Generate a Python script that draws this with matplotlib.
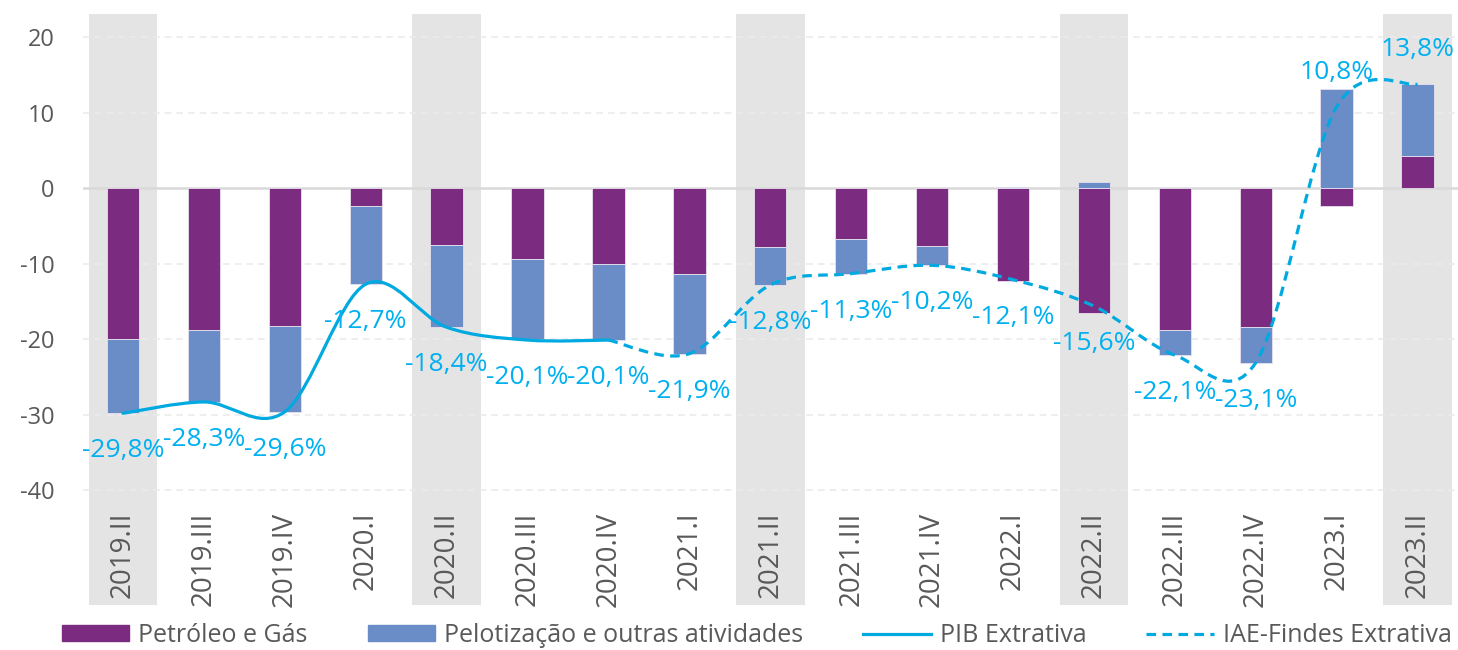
import numpy as np
import matplotlib.pyplot as plt
from matplotlib.path import Path
from matplotlib.patches import PathPatch, Patch
from matplotlib.lines import Line2D

plt.rcParams['font.family'] = ['Open Sans', 'DejaVu Sans']

# 1. DATA
quarters = ["2019.II", "2019.III", "2019.IV", "2020.I", "2020.II", "2020.III",
            "2020.IV", "2021.I", "2021.II", "2021.III", "2021.IV", "2022.I",
            "2022.II", "2022.III", "2022.IV", "2023.I", "2023.II"]
petroleo = [-20.0, -18.7, -18.2, -2.4, -7.5, -9.4, -10.0, -11.4, -7.8, -6.7,
            -7.6, -12.3, -16.5, -18.8, -18.4, -2.4, 4.3]
pelotizacao = [-9.8, -9.6, -11.4, -10.3, -10.9, -10.6, -10.1, -10.5, -5.0,
               -4.6, -2.6, 0.2, 0.9, -3.3, -4.7, 13.2, 9.5]
pib = [-29.8, -28.3, -29.6, -12.7, -18.4, -20.1, -20.1]
iae = [-20.1, -21.9, -12.8, -11.3, -10.2, -12.1, -15.6, -22.1, -23.1, 10.8, 13.8]
pib_labels = ["-29,8%", "-28,3%", "-29,6%", "-12,7%", "-18,4%", "-20,1%", "-20,1%"]
iae_labels = ["-21,9%", "-12,8%", "-11,3%", "-10,2%", "-12,1%", "-15,6%",
              "-22,1%", "-23,1%", "10,8%", "13,8%"]
shaded = ["2019.II", "2020.II", "2021.II", "2022.II", "2023.II"]

PURPLE = "#7B2C80"
BLUE = "#6A8DC8"
CYAN = "#00A9E0"
LABEL = "#00B0F0"
GREY_TXT = "#595959"


def smooth_path(xs, ys):
    # Catmull-Rom style bezier through the points (like Excel smoothed lines)
    pts = np.column_stack([xs, ys]).astype(float)
    n = len(pts)
    verts = [pts[0]]
    codes = [Path.MOVETO]
    for i in range(n - 1):
        p0 = pts[i - 1] if i > 0 else pts[i]
        p1 = pts[i]
        p2 = pts[i + 1]
        p3 = pts[i + 2] if i + 2 < n else pts[i + 1]
        c1 = p1 + (p2 - p0) / 6
        c2 = p2 - (p3 - p1) / 6
        verts += [c1, c2, p2]
        codes += [Path.CURVE4] * 3
    return Path(verts, codes)


# 2. FIGURE
fig = plt.figure(figsize=(14.58, 6.5), dpi=100)
ax = fig.add_axes([0.0566, 0.0692, 0.9434, 0.9093])
x = np.arange(len(quarters))

for q in shaded:
    i = quarters.index(q)
    ax.axvspan(i - 0.425, i + 0.425, color="#E4E4E4", lw=0, zorder=0)

for yv in [20, 10, -10, -20, -30, -40]:
    ax.axhline(yv, color="#EBEBEB", lw=1.2, ls=(0, (4, 3)), zorder=1)
ax.axhline(0, color="#D9D9D9", lw=1.8, zorder=1.5)

# stacked bars, positives and negatives stacked separately
petro = np.array(petroleo)
pelo = np.array(pelotizacao)
pelo_bottom = np.where(np.sign(pelo) == np.sign(petro), petro, 0)
ax.bar(x, petro, width=0.4, color=PURPLE, edgecolor="#E8E0EC", lw=0.6, zorder=2)
ax.bar(x, pelo, width=0.4, bottom=pelo_bottom, color=BLUE, edgecolor="#E8E0EC",
       lw=0.6, zorder=2)

# lines
x_pib = x[:len(pib)]
x_iae = x[len(pib) - 1:]
ax.add_patch(PathPatch(smooth_path(x_pib, pib), fill=False, edgecolor=CYAN,
                       lw=2.3, capstyle="round", zorder=3))
ax.add_patch(PathPatch(smooth_path(x_iae, iae), fill=False, edgecolor=CYAN,
                       lw=2.3, ls=(0, (3, 2)), zorder=3))

# data labels
all_x = list(x_pib) + list(x_iae[1:])
all_y = pib + iae[1:]
all_lbl = pib_labels + iae_labels
for xi, yi, t in zip(all_x, all_y, all_lbl):
    off = 25 if yi > 0 else -27
    ax.annotate(t, (xi, yi), xytext=(0, off), textcoords="offset points",
                ha="center", va="center", color=LABEL, fontsize=19, zorder=4)

# category labels inside the plot area
for xi, q in zip(x, quarters):
    ax.text(xi, -42.8, q, rotation=90, ha="center", va="top", fontsize=20,
            color=GREY_TXT, zorder=4)

ax.set_xlim(-0.5, 16.5)
ax.set_ylim(-55.2, 23.1)
ax.set_yticks([20, 10, 0, -10, -20, -30, -40])
ax.set_yticklabels(["20", "10", "0", "-10", "-20", "-30", "-40"])
ax.set_xticks([])
ax.tick_params(axis="y", length=0, pad=20, labelsize=17, labelcolor=GREY_TXT)
for s in ax.spines.values():
    s.set_visible(False)

# 3. LEGEND
handles = [
    Patch(color=PURPLE, label="Petróleo e Gás"),
    Patch(color=BLUE, label="Pelotização e outras atividades"),
    Line2D([], [], color=CYAN, lw=2.3, label="PIB Extrativa"),
    Line2D([], [], color=CYAN, lw=2.3, ls=(0, (3, 2)), label="IAE-Findes Extrativa"),
]
fig.legend(handles=handles, loc="center", bbox_to_anchor=(0.519, 0.022), ncol=4,
           frameon=False, fontsize=18, labelcolor=GREY_TXT, handlelength=2.7,
           handleheight=0.6, handletextpad=0.36, columnspacing=2.4)

fig.savefig("out.png", dpi=100)
